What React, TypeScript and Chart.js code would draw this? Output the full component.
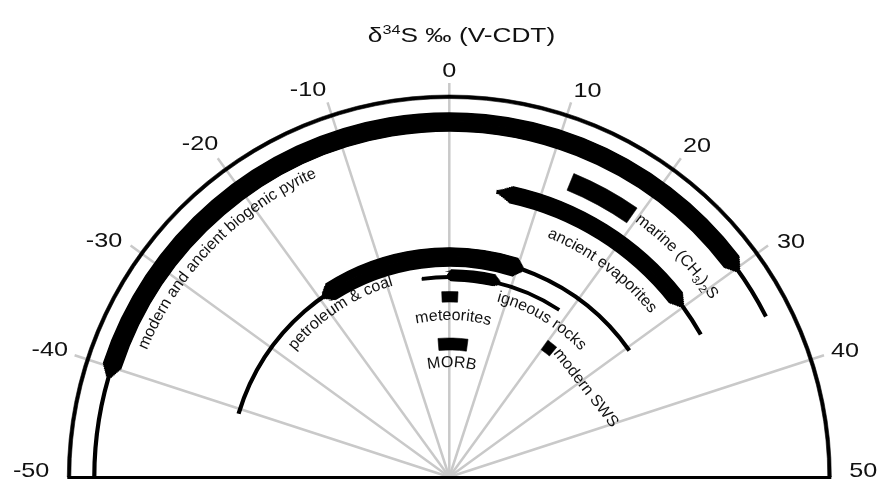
import React, { useEffect, useRef } from "react";
import { Chart, registerables } from "chart.js";

Chart.register(...registerables);

// ---------------- data (δ34S ‰ values) ----------------
const AXIS_RANGE: [number, number] = [-50, 50];
const tickValues = [-50, -40, -30, -20, -10, 0, 10, 20, 30, 40, 50];
const tickLabels = ["-50", "-40", "-30", "-20", "-10", "0", "10", "20", "30", "40", "50"];
const spokeValues = [-40, -30, -20, -10, 0, 10, 20, 30, 40];

const frameRange: [number, number] = [-50, 50];

const pyriteBand: [number, number] = [-39.8, 29.2];
const pyriteTips: [number, number] = [-41.1, 30.4];
const pyriteLine: [number, number] = [-50, 35];

const marineDMS: [number, number] = [12.4, 19.4];

const evaporiteBand: [number, number] = [7.0, 28.6];
const evaporiteTips: [number, number] = [5.3, 30.0];
const evaporiteLine: [number, number] = [5.3, 33.5];

const petroleumBand: [number, number] = [-18.0, 9.6];
const petroleumTips: [number, number] = [-19.7, 11.0];
const petroleumLine: [number, number] = [-40.6, 30.4];

const igneousBand: [number, number] = [0.4, 7.0];
const igneousTips: [number, number] = [-0.4, 8.3];
const igneousLine: [number, number] = [-4.3, 18.4];

const meteoritesRange: [number, number] = [-1.3, 1.5];
const modernSWSRange: [number, number] = [19.9, 22.0];
const morbRange: [number, number] = [-2.6, 4.3];

const titleParts = ["δ", "34", "S ‰ (V-CDT)"];

// ---------------- layout / style (not data) ----------------
const FONT = "'Liberation Sans', Arial, Helvetica, sans-serif";
const INK = "#000000";
const GAP = "rgba(0,0,0,0)";
const TEXT = "#111111";
const SPOKE = "#c9c9c9";
const SEAM = 1.6;

type Range = [number, number];
type Geo = { rIn: number; rOut: number; line?: number; lineW?: number };
type Sector = { rIn: number; rOut: number; from: number; to: number };

const GEO = {
  outerR: 382,
  frame: { rIn: 378.5, rOut: 382 } as Geo,
  pyrite: { rIn: 346, rOut: 364, line: 355, lineW: 2.6 } as Geo,
  marine: { rIn: 310, rOut: 328 } as Geo,
  evaporites: { rIn: 281, rOut: 297, line: 289, lineW: 2.6 } as Geo,
  petroleum: { rIn: 211, rOut: 229, line: 220, lineW: 2.6 } as Geo,
  igneous: { rIn: 196.5, rOut: 207, line: 200, lineW: 2.2 } as Geo,
  meteorites: { rIn: 175, rOut: 185.5 } as Geo,
  sws: { rIn: 157, rOut: 168.5 } as Geo,
  morb: { rIn: 127, rOut: 139 } as Geo,
  spokeR: 394,
  labelR: 400,
};

// angular nudges (in axis units) of the tick labels, as placed in the original figure
const TICK_LABEL_NUDGE = [0, -0.1, -0.8, -0.4, -1.1, 0, 0.9, 0.4, 0.7, 0.1, 0];
const TICK_FONT = { size: 21, stretch: 1.2 };
const TITLE = { x: 461.5, y: 41.5, size: 21, supSize: 13, supRise: 8, stretch: 1.25 };
const LABEL_SIZE = 16;

type Run = { text: string; sub?: boolean };
const ARC_LABELS: { runs: Run[]; v: number; r: number }[] = [
  { runs: [{ text: "modern and ancient biogenic pyrite" }], v: -25.3, r: 328 },
  { runs: [{ text: "petroleum & coal" }], v: -18.6, r: 199.5 },
  { runs: [{ text: "ancient evaporites" }], v: 20.3, r: 259 },
  {
    runs: [{ text: "marine (CH" }, { text: "3", sub: true }, { text: ")" }, { text: "2", sub: true }, { text: "S" }],
    v: 25.5,
    r: 316,
  },
  { runs: [{ text: "igneous rocks" }], v: 17.0, r: 182 },
  { runs: [{ text: "meteorites" }], v: 0.8, r: 157 },
  { runs: [{ text: "MORB" }], v: 0.7, r: 110 },
];
const SWS_LABEL = { text: "modern SWS", v: 31.6, r: 163, rotDeg: 52 };

// ---------------- geometry helpers ----------------
const rd = (x: number) => Math.round(x * 100) / 100;

function plain(range: Range, g: Geo): Sector[] {
  return [{ rIn: g.rIn, rOut: g.rOut, from: range[0], to: range[1] }];
}

function tapered(band: Range, tips: Range, line: Range | null, g: Geo): Sector[] {
  const out: Sector[] = [];
  const rc = g.line ?? (g.rIn + g.rOut) / 2;
  const lw = g.lineW ?? 0;
  const lIn = rd(rc - lw / 2);
  const lOut = rd(rc + lw / 2);
  const lineFrom = line ? Math.min(line[0], tips[0]) : tips[0];
  const lineTo = line ? Math.max(line[1], tips[1]) : tips[1];
  out.push({ rIn: lIn, rOut: lOut, from: lineFrom, to: lineTo });
  const taper = (mid: number) => {
    let frac = mid >= rc ? (mid - rc) / (g.rOut - rc) : (rc - mid) / (rc - g.rIn);
    frac = Math.max(0, Math.min(1, frac));
    return [band[0] - (band[0] - tips[0]) * (1 - frac), band[1] + (tips[1] - band[1]) * (1 - frac)];
  };
  for (let a = lOut; a < g.rOut - 1e-6; a += 1) {
    const c = rd(Math.min(a + 1, g.rOut));
    const [f, t] = taper((a + c) / 2);
    out.push({ rIn: rd(a), rOut: c, from: f, to: t });
  }
  for (let c = lIn; c > g.rIn + 1e-6; c -= 1) {
    const a = rd(Math.max(c - 1, g.rIn));
    const [f, t] = taper((a + c) / 2);
    out.push({ rIn: a, rOut: rd(c), from: f, to: t });
  }
  return out;
}

function buildDatasets(sectors: Sector[]) {
  const bs = new Set<number>([0, GEO.outerR]);
  for (const s of sectors) {
    bs.add(rd(s.rIn));
    bs.add(rd(s.rOut));
  }
  const b = [...bs].sort((a, c) => c - a);
  const [lo0, hi0] = AXIS_RANGE;
  const ds: any[] = [];
  for (let i = 0; i < b.length - 1; i++) {
    const hi = b[i];
    const lo = b[i + 1];
    if (hi - lo < 1e-6) continue;
    const mid = (hi + lo) / 2;
    const rs = sectors
      .filter((s) => s.rIn < mid && s.rOut > mid)
      .map((s) => [Math.max(lo0, s.from), Math.min(hi0, s.to)] as Range)
      .filter((r) => r[1] > r[0])
      .sort((p, q) => p[0] - q[0]);
    const merged: Range[] = [];
    for (const r of rs) {
      const last = merged[merged.length - 1];
      if (last && r[0] <= last[1]) last[1] = Math.max(last[1], r[1]);
      else merged.push([r[0], r[1]]);
    }
    const data: number[] = [];
    const bg: string[] = [];
    const bw: number[] = [];
    let cur = lo0;
    for (const [f, t] of merged) {
      if (f > cur) {
        data.push(f - cur);
        bg.push(GAP);
        bw.push(0);
      }
      data.push(t - f);
      bg.push(INK);
      bw.push(hi - lo < 3 ? SEAM : 0.6);
      cur = t;
    }
    if (cur < hi0) {
      data.push(hi0 - cur);
      bg.push(GAP);
      bw.push(0);
    }
    ds.push({
      data,
      backgroundColor: bg,
      borderColor: bg,
      borderWidth: bw,
      borderJoinStyle: "miter",
      weight: hi - lo,
    });
  }
  return ds;
}

const sectors: Sector[] = [
  ...plain(frameRange, GEO.frame),
  ...tapered(pyriteBand, pyriteTips, pyriteLine, GEO.pyrite),
  ...plain(marineDMS, GEO.marine),
  ...tapered(evaporiteBand, evaporiteTips, evaporiteLine, GEO.evaporites),
  ...tapered(petroleumBand, petroleumTips, petroleumLine, GEO.petroleum),
  ...tapered(igneousBand, igneousTips, igneousLine, GEO.igneous),
  ...plain(meteoritesRange, GEO.meteorites),
  ...plain(modernSWSRange, GEO.sws),
  ...plain(morbRange, GEO.morb),
];

// ---------------- decoration plugin ----------------
function geom(chart: any) {
  const arc: any = chart.getDatasetMeta(0).data[0];
  const cx = arc.x;
  const cy = arc.y;
  const a0 = arc.startAngle;
  const a1 = arc.endAngle;
  const ang = (v: number) => a0 + ((v - AXIS_RANGE[0]) / (AXIS_RANGE[1] - AXIS_RANGE[0])) * (a1 - a0);
  return { cx, cy, ang };
}

function drawArcText(ctx: CanvasRenderingContext2D, runs: Run[], cx: number, cy: number, r: number, phiC: number) {
  const items: { ch: string; w: number; font: string; dr: number }[] = [];
  for (const run of runs) {
    const size = run.sub ? 11 : LABEL_SIZE;
    const font = `${size}px ${FONT}`;
    ctx.font = font;
    for (const ch of run.text) {
      items.push({ ch, w: ctx.measureText(ch).width, font, dr: run.sub ? -4 : 0 });
    }
  }
  const W = items.reduce((s, it) => s + it.w, 0);
  let acc = 0;
  const phi0 = phiC - W / (2 * r);
  for (const it of items) {
    const phi = phi0 + (acc + it.w / 2) / r;
    const rr = r + it.dr;
    ctx.save();
    ctx.translate(cx + rr * Math.cos(phi), cy + rr * Math.sin(phi));
    ctx.rotate(phi + Math.PI / 2);
    ctx.font = it.font;
    ctx.textAlign = "center";
    ctx.textBaseline = "alphabetic";
    ctx.fillText(it.ch, 0, 0);
    ctx.restore();
    acc += it.w;
  }
}

const decorPlugin = {
  id: "polarDecor",
  beforeDatasetsDraw(chart: any) {
    const ctx: CanvasRenderingContext2D = chart.ctx;
    const { cx, cy, ang } = geom(chart);
    ctx.save();
    ctx.strokeStyle = SPOKE;
    ctx.lineWidth = 2.5;
    for (const v of spokeValues) {
      const p = ang(v);
      ctx.beginPath();
      ctx.moveTo(cx, cy);
      ctx.lineTo(cx + GEO.spokeR * Math.cos(p), cy + GEO.spokeR * Math.sin(p));
      ctx.stroke();
    }
    ctx.restore();
  },
  afterDatasetsDraw(chart: any) {
    const ctx: CanvasRenderingContext2D = chart.ctx;
    const { cx, cy, ang } = geom(chart);
    ctx.save();
    // baseline
    ctx.strokeStyle = INK;
    ctx.lineWidth = 3;
    ctx.beginPath();
    ctx.moveTo(cx - GEO.outerR, cy + 0.5);
    ctx.lineTo(cx + GEO.outerR, cy + 0.5);
    ctx.stroke();

    ctx.fillStyle = TEXT;
    // tick labels
    ctx.font = `${TICK_FONT.size}px ${FONT}`;
    const capH = TICK_FONT.size * 0.716;
    tickValues.forEach((v, i) => {
      const txt = tickLabels[i];
      const p = ang(v + (TICK_LABEL_NUDGE[i] || 0));
      const hw = (ctx.measureText(txt).width * TICK_FONT.stretch) / 2;
      const hh = capH / 2;
      const off = GEO.labelR + hw * Math.abs(Math.cos(p)) + hh * Math.abs(Math.sin(p));
      const x = cx + off * Math.cos(p);
      let y = cy + off * Math.sin(p);
      y = Math.min(y, cy - hh);
      ctx.save();
      ctx.translate(x, y + hh);
      ctx.scale(TICK_FONT.stretch, 1);
      ctx.textAlign = "center";
      ctx.textBaseline = "alphabetic";
      ctx.fillText(txt, 0, 0);
      ctx.restore();
    });

    // curved labels
    for (const lab of ARC_LABELS) drawArcText(ctx, lab.runs, cx, cy, lab.r, ang(lab.v));

    // modern SWS (straight, rotated)
    {
      const p = ang(SWS_LABEL.v);
      ctx.save();
      ctx.translate(cx + SWS_LABEL.r * Math.cos(p), cy + SWS_LABEL.r * Math.sin(p));
      ctx.rotate((SWS_LABEL.rotDeg * Math.PI) / 180);
      ctx.font = `${LABEL_SIZE}px ${FONT}`;
      ctx.textAlign = "center";
      ctx.textBaseline = "middle";
      ctx.fillText(SWS_LABEL.text, 0, 0);
      ctx.restore();
    }

    // title
    {
      const fMain = `${TITLE.size}px ${FONT}`;
      const fSup = `${TITLE.supSize}px ${FONT}`;
      const parts = [
        { t: titleParts[0], f: fMain, dy: 0 },
        { t: titleParts[1], f: fSup, dy: -TITLE.supRise },
        { t: titleParts[2], f: fMain, dy: 0 },
      ];
      let W = 0;
      const ws = parts.map((pt) => {
        ctx.font = pt.f;
        const w = ctx.measureText(pt.t).width;
        W += w;
        return w;
      });
      ctx.save();
      ctx.translate(TITLE.x, TITLE.y);
      ctx.scale(TITLE.stretch, 1);
      ctx.textAlign = "left";
      ctx.textBaseline = "alphabetic";
      let x = -W / 2;
      parts.forEach((pt, i) => {
        ctx.font = pt.f;
        ctx.fillText(pt.t, x, pt.dy);
        x += ws[i];
      });
      ctx.restore();
    }
    ctx.restore();
  },
};

export default function App() {
  const ref = useRef<HTMLCanvasElement>(null);
  useEffect(() => {
    const canvas = ref.current;
    if (!canvas) return;
    const chart = new Chart(canvas, {
      type: "doughnut",
      data: { labels: [], datasets: buildDatasets(sectors) },
      options: {
        responsive: false,
        animation: false,
        events: [],
        rotation: -90,
        circumference: 180,
        cutout: 0,
        radius: GEO.outerR,
        layout: { padding: { left: 16.6, right: 0, top: 93, bottom: 0 } },
        plugins: {
          legend: { display: false },
          tooltip: { enabled: false },
          title: { display: false },
        },
      } as any,
      plugins: [decorPlugin as any],
    });
    return () => chart.destroy();
  }, []);
  return (
    <div style={{ position: "absolute", left: 0, top: 0, width: 882, height: 479, background: "#ffffff" }}>
      <canvas ref={ref} width={882} height={479} style={{ display: "block" }} />
    </div>
  );
}
